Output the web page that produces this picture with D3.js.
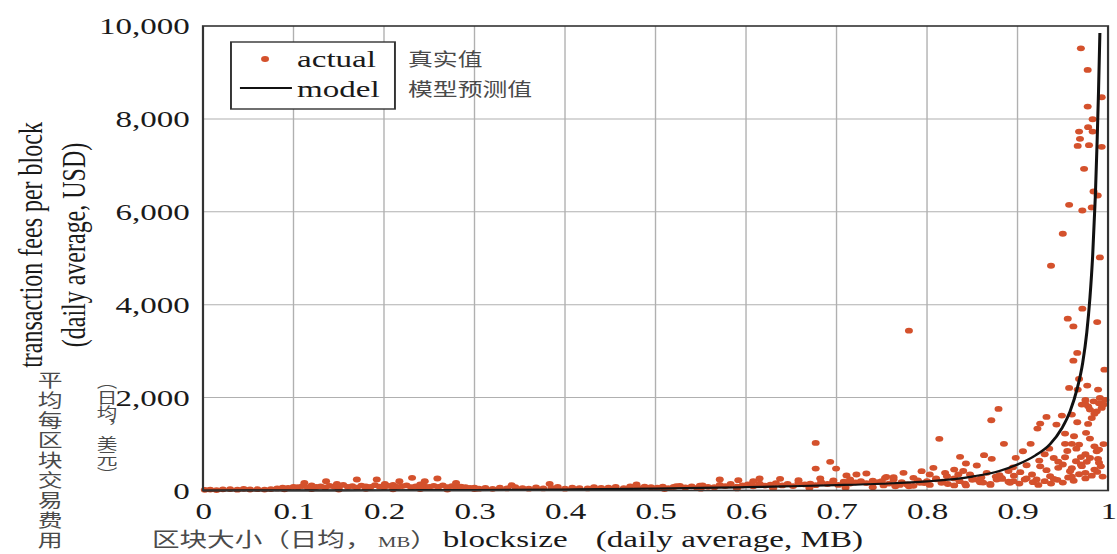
<!DOCTYPE html>
<html>
<head>
<meta charset="utf-8">
<script src="https://cdn.jsdelivr.net/npm/d3@7"></script>
<style>
  html, body { margin: 0; padding: 0; background: #fff; overflow: hidden; }
</style>
</head>
<body>
<svg id="chart" width="1117" height="554"></svg>
<script>
// Axis ticks
const xTicks = [0, 0.1, 0.2, 0.3, 0.4, 0.5, 0.6, 0.7, 0.8, 0.9, 1];
const xTickLabels = ["0", "0.1", "0.2", "0.3", "0.4", "0.5", "0.6", "0.7", "0.8", "0.9", "1"];
const yTicks = [0, 2000, 4000, 6000, 8000, 10000];
const yTickLabels = ["0", "2,000", "4,000", "6,000", "8,000", "10,000"];

// Observed days: [blocksize MB, fees per block USD]
const actualHigh = [
  [0.970, 9520], [0.9775, 9054], [0.993, 8466], [0.9775, 8265], [0.983, 7993], [0.978, 7821],
  [0.968, 7727], [0.983, 7727], [0.969, 7570], [0.9665, 7419], [0.979, 7434], [0.993, 7398],
  [0.9735, 6925], [0.984, 6437], [0.9886, 6351], [0.957, 6150], [0.9716, 6028], [0.982, 6093],
  [0.950, 5527], [0.991, 5017], [0.937, 4839]
];
const actualMid = [
  [0.9716, 3914], [0.9555, 3699], [0.988, 3627], [0.9617, 3533], [0.966, 2961], [0.9617, 2796],
  [0.996, 2602], [0.968, 2402], [0.977, 2258], [0.957, 2208], [0.989, 2172], [0.9665, 2172],
  [0.991, 1993], [0.984, 1920], [0.9746, 1871], [0.978, 1813], [0.971, 1849], [0.9875, 1705],
  [0.993, 1778], [0.980, 1742], [0.932, 1585], [0.925, 1441], [0.922, 1333], [0.949, 1613],
  [0.943, 1419], [0.960, 1634], [0.966, 1469], [0.978, 1434], [0.9525, 1226], [0.9624, 1168],
  [0.9757, 1241], [0.980, 1118], [0.9525, 1004], [0.960, 1004], [0.968, 989], [0.885, 1004],
  [0.9145, 1004], [0.906, 845], [0.9875, 845], [0.898, 703], [0.9525, 716], [0.989, 682],
  [0.924, 645], [0.9646, 630], [0.9765, 617], [0.910, 544], [0.932, 437], [0.945, 488],
  [0.958, 415], [0.971, 523], [0.903, 394], [0.916, 344], [0.921, 237], [0.8955, 200],
  [0.908, 237], [0.936, 308], [0.8825, 273],
  [0.985, 1650], [0.990, 1880], [0.975, 1950], [0.995, 1850], [0.997, 1950], [0.982, 1560],
  [0.950, 560], [0.970, 720], [0.985, 450], [0.990, 600], [0.940, 250], [0.960, 300],
  [0.975, 380], [0.940, 700], [0.955, 850], [0.965, 900], [0.975, 780], [0.985, 950],
  [0.990, 880], [0.945, 620], [0.970, 560], [0.980, 700], [0.960, 480], [0.992, 520],
  [0.995, 1000], [0.935, 900], [0.930, 780], [0.925, 520]
];
const actualKnee = [
  [0.879, 1756], [0.871, 1512], [0.8136, 1112], [0.8365, 724], [0.863, 760], [0.8715, 681],
  [0.843, 581], [0.855, 538], [0.807, 488], [0.794, 415], [0.774, 380], [0.755, 294],
  [0.785, 273], [0.803, 344], [0.822, 308], [0.8346, 344], [0.8475, 344], [0.866, 380],
  [0.763, 237], [0.816, 165], [0.842, 150], [0.8586, 178], [0.877, 237], [0.8917, 165],
  [0.792, 165], [0.750, 200], [0.770, 120], [0.780, 90], [0.800, 200], [0.810, 260],
  [0.830, 110], [0.850, 230], [0.860, 280], [0.870, 120], [0.880, 330], [0.890, 420],
  [0.895, 500], [0.840, 420], [0.830, 450], [0.820, 380], [0.780, 3440],
  [0.677, 1025], [0.693, 617], [0.677, 473], [0.6995, 473], [0.711, 323], [0.722, 344],
  [0.733, 366], [0.571, 237], [0.5915, 222], [0.615, 258], [0.6376, 252], [0.658, 222],
  [0.682, 258], [0.6965, 215], [0.608, 200], [0.7536, 273], [0.763, 286], [0.715, 237],
  [0.479, 129], [0.523, 92], [0.549, 107],
  [0.112, 165], [0.136, 200], [0.170, 237], [0.192, 237], [0.217, 200], [0.231, 273],
  [0.245, 200], [0.259, 258], [0.2796, 165], [0.148, 144], [0.201, 144], [0.383, 144],
  [0.341, 114]
];
const actualLow = [
  [0.002, 15], [0.008, 20], [0.015, 10], [0.022, 25], [0.030, 30], [0.038, 18], [0.045, 35],
  [0.052, 22], [0.060, 28], [0.068, 20], [0.075, 30],
  [0.082, 45], [0.088, 60], [0.094, 55], [0.100, 80], [0.105, 70], [0.110, 95], [0.116, 60],
  [0.120, 110], [0.125, 75], [0.130, 90], [0.135, 65], [0.140, 100], [0.145, 85], [0.150, 70],
  [0.155, 120], [0.160, 80], [0.165, 95], [0.170, 60], [0.175, 105], [0.180, 90], [0.185, 75],
  [0.190, 115], [0.195, 85], [0.200, 70], [0.205, 100], [0.210, 120], [0.215, 80], [0.220, 95],
  [0.225, 110], [0.230, 70], [0.235, 90], [0.240, 130], [0.245, 85], [0.250, 75], [0.255, 100],
  [0.260, 80], [0.265, 110], [0.270, 70], [0.275, 95], [0.280, 60], [0.285, 85], [0.290, 70],
  [0.295, 55], [0.300, 60],
  [0.090, 25], [0.120, 30], [0.150, 20], [0.180, 35], [0.210, 25], [0.240, 30], [0.270, 20],
  [0.300, 30],
  [0.305, 40], [0.312, 55], [0.320, 35], [0.328, 60], [0.336, 45], [0.345, 70], [0.353, 50],
  [0.360, 40], [0.368, 65], [0.376, 45], [0.385, 55], [0.392, 80], [0.400, 40], [0.408, 60],
  [0.416, 50], [0.425, 45], [0.432, 70], [0.440, 55], [0.448, 60], [0.456, 75], [0.465, 50],
  [0.472, 90], [0.480, 65], [0.488, 85], [0.495, 70],
  [0.502, 60], [0.508, 85], [0.514, 50], [0.520, 75], [0.527, 100], [0.533, 65], [0.540, 90],
  [0.546, 55], [0.552, 110], [0.558, 80], [0.565, 70], [0.571, 120], [0.577, 95], [0.583, 140],
  [0.590, 85], [0.596, 110], [0.602, 130], [0.608, 90], [0.615, 150], [0.621, 105], [0.627, 125],
  [0.633, 160], [0.640, 110], [0.646, 140], [0.652, 95], [0.658, 170], [0.665, 130], [0.671, 150],
  [0.677, 115], [0.683, 180], [0.690, 140], [0.696, 165], [0.702, 120], [0.708, 190], [0.715, 150],
  [0.721, 175], [0.727, 200], [0.733, 160], [0.740, 210], [0.746, 180],
  [0.510, 30], [0.550, 40], [0.590, 45], [0.630, 50], [0.670, 55], [0.710, 60], [0.740, 70],
  [0.752, 110], [0.758, 150], [0.765, 90], [0.772, 180], [0.778, 130], [0.785, 100], [0.790, 220],
  [0.797, 160], [0.803, 120], [0.810, 240], [0.817, 190], [0.823, 140], [0.830, 260], [0.836, 200],
  [0.843, 110], [0.850, 280], [0.856, 230], [0.862, 170], [0.870, 140], [0.876, 300], [0.883, 250],
  [0.890, 190], [0.896, 320], [0.902, 150], [0.910, 260], [0.917, 180], [0.923, 120], [0.930, 200],
  [0.937, 150], [0.944, 230], [0.950, 170], [0.956, 280], [0.962, 210], [0.968, 350], [0.975, 260],
  [0.982, 320], [0.988, 400], [0.994, 300]
];

// Fitted model curve, sampled along blocksize
const modelSize = [0, 0.1, 0.2, 0.3, 0.4, 0.5, 0.55, 0.6, 0.65, 0.7, 0.75, 0.8, 0.85, 0.88, 0.9,
  0.92, 0.936, 0.949, 0.958, 0.966, 0.972, 0.9765, 0.98, 0.983, 0.986, 0.988, 0.9895, 0.991];
const modelFees = [0, 2, 5, 10, 20, 40, 55, 72, 92, 115, 145, 195, 300, 420, 560,
  760, 1000, 1340, 1700, 2200, 2750, 3400, 4150, 5050, 6350, 7550, 8600, 9850];

const legendItems = [
  { key: "actual", zh: "真实值" },
  { key: "model", zh: "模型预测值" }
];

// Drawn in a narrower coordinate space, stretched horizontally to the page width
const VBW = 810, H = 554;
const SERIF = "'Liberation Serif', 'DejaVu Serif', serif";
const CJK = "'Noto Sans CJK SC', 'Noto Sans', sans-serif";
const DOT = "#d4512c";
const ZH_FILL = "#4a4a4a";

const svg = d3.select("#chart")
  .attr("viewBox", `0 0 ${VBW} ${H}`)
  .attr("preserveAspectRatio", "none");

const L = 147.2, R = 803.5, T = 26, B = 490.5;
const x = d3.scaleLinear().domain([0, 1]).range([L, R]);
const y = d3.scaleLinear().domain([0, 10000]).range([B, T]);

// Grid
const grid = svg.append("g").attr("stroke", "#b0b0b0").attr("stroke-width", 1);
grid.selectAll("line.v").data(xTicks.slice(1, -1)).join("line")
  .attr("x1", d => x(d)).attr("x2", d => x(d)).attr("y1", T).attr("y2", B);
grid.selectAll("line.h").data(yTicks.slice(1, -1)).join("line")
  .attr("x1", L).attr("x2", R).attr("y1", d => y(d)).attr("y2", d => y(d));

// Axes
const xAxis = svg.append("g").attr("transform", `translate(0,${B})`)
  .call(d3.axisBottom(x).tickValues(xTicks).tickFormat((d, i) => xTickLabels[i]).tickSize(0).tickPadding(11));
xAxis.select(".domain").remove();
xAxis.selectAll("text").attr("font-family", SERIF).attr("font-size", 24).attr("fill", "#1a1a1a");

const yAxis = svg.append("g").attr("transform", `translate(${L},0)`)
  .call(d3.axisLeft(y).tickValues(yTicks).tickFormat((d, i) => yTickLabels[i]).tickSize(0).tickPadding(9.5));
yAxis.select(".domain").remove();
yAxis.selectAll("text").attr("font-family", SERIF).attr("font-size", 24).attr("fill", "#1a1a1a");

// Points
const actual = [].concat(actualLow, actualKnee, actualMid, actualHigh);
svg.append("g").selectAll("circle").data(actual).join("circle")
  .attr("cx", d => x(d[0])).attr("cy", d => y(d[1])).attr("r", 2.9)
  .attr("fill", DOT);

// Model curve
const line = d3.line().x(d => x(d[0])).y(d => y(d[1])).curve(d3.curveMonotoneX);
svg.append("path").datum(modelSize.map((s, i) => [s, modelFees[i]]))
  .attr("d", line).attr("fill", "none").attr("stroke", "#111").attr("stroke-width", 2.2);

// Frame
svg.append("rect").attr("x", L).attr("y", T).attr("width", R - L).attr("height", B - T)
  .attr("fill", "none").attr("stroke", "#333").attr("stroke-width", 1.6);

// Legend
const lg = svg.append("g");
lg.append("rect").attr("x", 167.5).attr("y", 42).attr("width", 118.9).attr("height", 67)
  .attr("fill", "#fff").attr("stroke", "#333").attr("stroke-width", 1.4);
lg.append("circle").attr("cx", 192.2).attr("cy", 59).attr("r", 2.9).attr("fill", DOT);
lg.append("line").attr("x1", 174).attr("x2", 211.7).attr("y1", 88).attr("y2", 88)
  .attr("stroke", "#111").attr("stroke-width", 2.2);
lg.selectAll("text.en").data(legendItems).join("text")
  .attr("x", 215.4).attr("y", (d, i) => 67 + i * 30)
  .attr("font-family", SERIF).attr("font-size", 24).attr("fill", "#1a1a1a").text(d => d.key);
lg.selectAll("text.zh").data(legendItems).join("text")
  .attr("x", 295.9).attr("y", (d, i) => 66 + i * 30)
  .attr("font-family", CJK).attr("font-size", 18).attr("fill", ZH_FILL).text(d => d.zh);

// Y axis titles
svg.append("text").attr("transform", "translate(30.5,245) rotate(-90)")
  .attr("text-anchor", "middle").attr("font-family", SERIF).attr("font-size", 24).attr("fill", "#1a1a1a")
  .text("transaction fees per block");
svg.append("text").attr("transform", "translate(61.5,245) rotate(-90)")
  .attr("text-anchor", "middle").attr("font-family", SERIF).attr("font-size", 24).attr("fill", "#1a1a1a")
  .text("(daily average, USD)");

svg.append("text").attr("x", 36.3).attr("y", 371)
  .style("writing-mode", "vertical-rl")
  .attr("font-family", CJK).attr("font-size", 18).attr("letter-spacing", 2)
  .attr("fill", ZH_FILL).text("平均每区块交易费用");
svg.append("text").attr("x", 77.6).attr("y", 374)
  .style("writing-mode", "vertical-rl")
  .attr("font-family", CJK).attr("font-size", 15).attr("letter-spacing", 0.4)
  .attr("fill", ZH_FILL).text("（日均，美元）");

// X axis title
const xt = svg.append("g");
xt.append("text").attr("x", 110.2).attr("y", 547)
  .attr("font-family", CJK).attr("font-size", 20).attr("fill", ZH_FILL)
  .text("区块大小（日均，")
  .append("tspan").attr("font-family", SERIF).attr("font-size", 15).attr("dx", 4).text("MB")
  .append("tspan").attr("font-family", CJK).attr("font-size", 20).text("）");
xt.append("text").attr("x", 321).attr("y", 547)
  .attr("font-family", SERIF).attr("font-size", 24).attr("fill", "#1a1a1a").text("blocksize");
xt.append("text").attr("x", 432).attr("y", 547)
  .attr("font-family", SERIF).attr("font-size", 24).attr("fill", "#1a1a1a").text("(daily average, MB)");
</script>
</body>
</html>
